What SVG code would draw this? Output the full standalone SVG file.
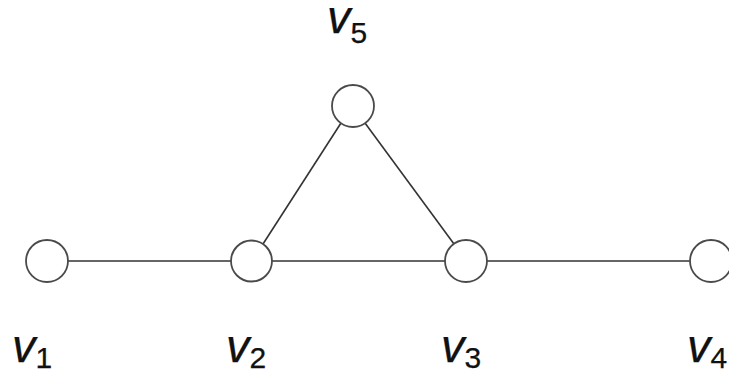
<svg xmlns="http://www.w3.org/2000/svg" width="729" height="372" viewBox="0 0 729 372">
<style>
.n{fill:#fff;stroke:#4a4a4a;stroke-width:1.8}
.e{stroke:#333;stroke-width:1.6;fill:none}
.l{font-family:"Liberation Sans",Arial,sans-serif;fill:#111;stroke:#111;stroke-width:0.25}
.v{font-style:italic;font-size:47px}
.s{font-size:30px}
</style>
<rect width="729" height="372" fill="#fff"/>
<g id="edges">
<line class="e" x1="68" y1="261" x2="231" y2="261"/>
<line class="e" x1="272" y1="261" x2="445" y2="261"/>
<line class="e" x1="487" y1="261" x2="690" y2="261"/>
<line class="e" x1="263" y1="244" x2="341" y2="123"/>
<line class="e" x1="454" y1="244" x2="365" y2="123"/>
</g>
<g id="v1"><circle class="n" cx="47" cy="261" r="21"/><text class="l" x="12" y="362"><tspan class="v">v</tspan><tspan class="s" y="368">1</tspan></text></g>
<g id="v2"><circle class="n" cx="251.5" cy="261" r="20.5"/><text class="l" x="226" y="362"><tspan class="v">v</tspan><tspan class="s" y="368">2</tspan></text></g>
<g id="v3"><circle class="n" cx="466" cy="261" r="21"/><text class="l" x="441" y="362"><tspan class="v">v</tspan><tspan class="s" y="368">3</tspan></text></g>
<g id="v4"><circle class="n" cx="711" cy="261" r="21"/><text class="l" x="687" y="362"><tspan class="v">v</tspan><tspan class="s" y="368">4</tspan></text></g>
<g id="v5"><circle class="n" cx="353" cy="106" r="21"/><text class="l" x="327" y="33"><tspan class="v">v</tspan><tspan class="s" y="43">5</tspan></text></g>
</svg>
